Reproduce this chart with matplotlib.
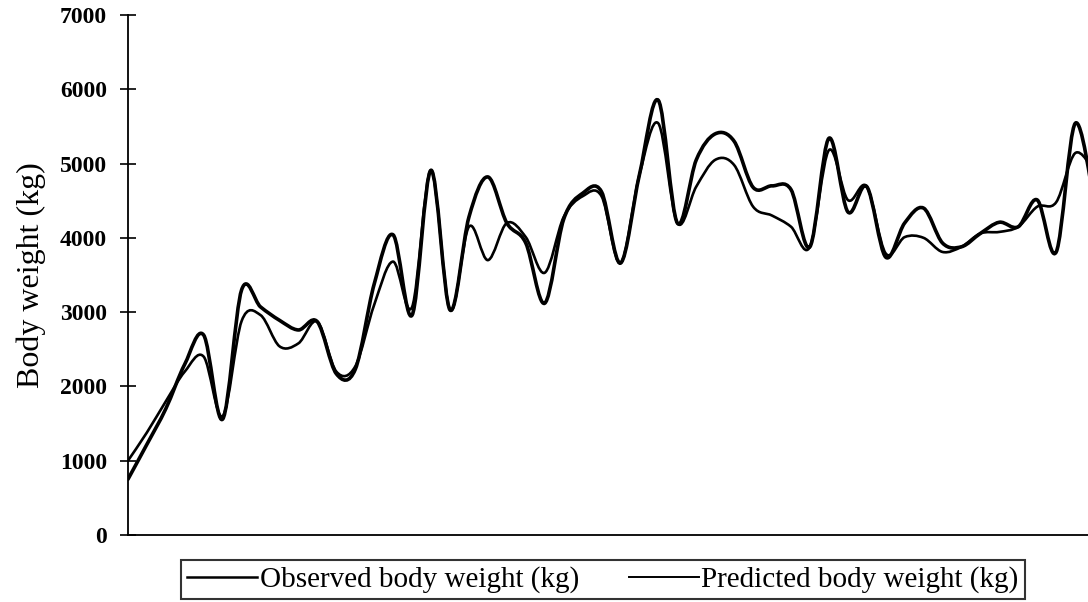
import matplotlib.pyplot as plt
from matplotlib.path import Path
from matplotlib.patches import PathPatch
from matplotlib.lines import Line2D

plt.rcParams['font.family'] = ['Liberation Serif', 'DejaVu Serif']

# body weight readings, one per sample (kg)
observed = [750, 1220, 1700, 2300, 2690, 1560, 3300, 3070, 2890, 2760,
            2870, 2170, 2230, 3380, 4040, 2960, 4910, 3030, 4280, 4820,
            4200, 3930, 3120, 4250, 4600, 4620, 3660, 4850, 5850, 4200,
            5050, 5400, 5300, 4680, 4700, 4650, 3880, 5340, 4350, 4690,
            3740, 4200, 4400, 3930, 3880, 4060, 4210, 4150, 4510, 3810,
            5540, 4500]
predicted = [1000, 1380, 1800, 2200, 2400, 1600, 2880, 2960, 2540, 2580,
             2870, 2200, 2270, 3100, 3680, 3070, 4910, 3030, 4150, 3700,
             4200, 4010, 3530, 4280, 4560, 4560, 3660, 4850, 5540, 4200,
             4690, 5050, 4980, 4420, 4300, 4150, 3880, 5180, 4510, 4690,
             3790, 4010, 4000, 3810, 3880, 4060, 4080, 4150, 4420, 4480,
             5140, 4900]
yticks = [0, 1000, 2000, 3000, 4000, 5000, 6000, 7000]


def smooth_path(xs, ys):
    # spreadsheet-style smoothed line: cubic bezier through every point
    n = len(xs)
    verts = [(xs[0], ys[0])]
    codes = [Path.MOVETO]
    for i in range(n - 1):
        i0 = max(i - 1, 0)
        i3 = min(i + 2, n - 1)
        c1 = (xs[i] + (xs[i + 1] - xs[i0]) / 6, ys[i] + (ys[i + 1] - ys[i0]) / 6)
        c2 = (xs[i + 1] - (xs[i3] - xs[i]) / 6, ys[i + 1] - (ys[i3] - ys[i]) / 6)
        verts += [c1, c2, (xs[i + 1], ys[i + 1])]
        codes += [Path.CURVE4] * 3
    return Path(verts, codes)


x = list(range(len(observed)))

fig = plt.figure(figsize=(10.88, 6.02), dpi=100)
ax = fig.add_axes([0.1176, 0.1113, 0.888, 0.8638])

ax.add_patch(PathPatch(smooth_path(x, observed), fill=False, edgecolor='black',
                       lw=2.6, joinstyle='round', capstyle='round'))
ax.add_patch(PathPatch(smooth_path(x, predicted), fill=False, edgecolor='black',
                       lw=1.9, joinstyle='round', capstyle='round'))

ax.set_xlim(0, 51)
ax.set_ylim(0, 7000)
ax.set_yticks(yticks)
ax.set_xticks([])
ax.tick_params(axis='y', direction='inout', length=12, width=1.2, pad=9, labelsize=17)
for lbl in ax.get_yticklabels():
    lbl.set_fontweight('bold')

for side in ['top', 'right']:
    ax.spines[side].set_visible(False)
ax.spines['left'].set_linewidth(1.3)
ax.spines['bottom'].set_linewidth(1.3)

ax.set_ylabel('Body weight (kg)', fontsize=23, labelpad=10)

handles = [Line2D([], [], color='black', lw=1.8),
           Line2D([], [], color='black', lw=1.4)]
labels = ['Observed body weight (kg)', 'Predicted body weight (kg)']
leg = fig.legend(handles, labels, loc='upper center', bbox_to_anchor=(0.554, 0.069),
                 ncol=2, fontsize=21, frameon=True, fancybox=False, edgecolor='black',
                 handlelength=2.4, handletextpad=0.1, columnspacing=1.7,
                 borderpad=0.2, borderaxespad=0)
leg.get_frame().set_linewidth(1.5)

plt.savefig('out.png', dpi=100)
